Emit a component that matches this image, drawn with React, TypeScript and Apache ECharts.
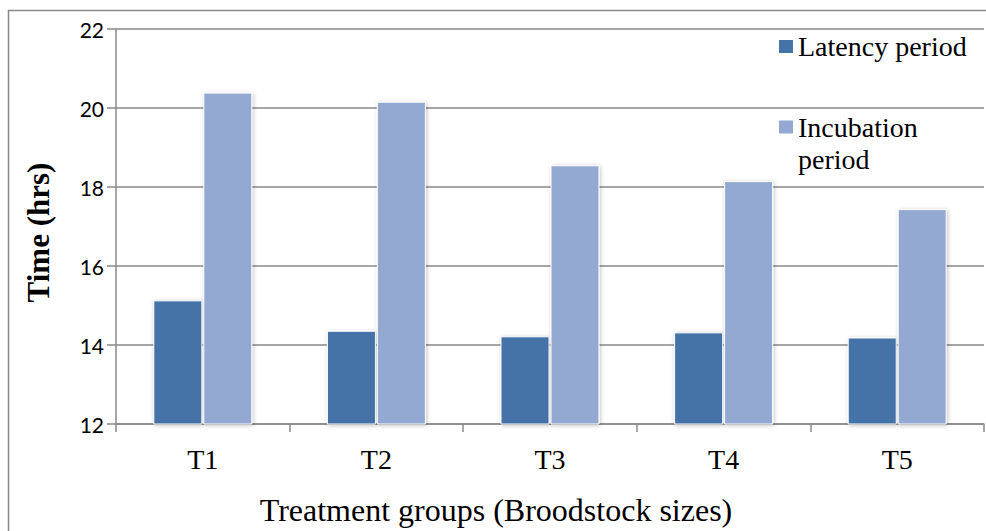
import React, { useEffect, useRef } from "react";
import * as echarts from "echarts";

const categories = ["T1", "T2", "T3", "T4", "T5"];
const latencyPeriod = [15.13, 14.36, 14.22, 14.32, 14.19];
const incubationPeriod = [20.39, 20.16, 18.55, 18.15, 17.44];
const seriesNames = ["Latency period", "Incubation period"];

const SERIF = "Liberation Serif";
const SANS = "Lato";
const GRID = "#898989";

export default function App() {
  const ref = useRef<HTMLDivElement>(null);

  useEffect(() => {
    if (!ref.current) return;
    const chart = echarts.init(ref.current, undefined, { renderer: "svg" });

    const barStyle = (color: string) => ({
      color,
      borderColor: "#ffffff",
      borderWidth: 1,
      shadowBlur: 4,
      shadowColor: "rgba(0,0,0,0.25)",
      shadowOffsetX: 1,
      shadowOffsetY: 1,
    });

    const legendBase = {
      orient: "vertical",
      left: 779,
      padding: 0,
      icon: "rect",
      itemWidth: 14,
      itemHeight: 13,
      itemStyle: { borderWidth: 0, shadowBlur: 0 },
      textStyle: { fontFamily: SERIF, fontSize: 28, color: "#000", lineHeight: 32 },
    };

    chart.setOption({
      animation: false,
      backgroundColor: "#ffffff",
      grid: { left: 116, right: 2, top: 29, bottom: 105 },
      graphic: [
        {
          type: "rect",
          shape: { x: 8.5, y: 10.5, width: 1200, height: 800 },
          style: { fill: "none", stroke: GRID, lineWidth: 1.5 },
          silent: true,
        },
      ],
      legend: [
        { ...legendBase, data: [seriesNames[0]], top: 30.5 },
        {
          ...legendBase,
          data: [seriesNames[1]],
          top: 79,
          // blank first line keeps the icon level with "Incubation"
          formatter: () => " \nIncubation\nperiod",
        },
      ],
      xAxis: {
        type: "category",
        data: categories,
        name: "Treatment groups (Broodstock sizes)",
        nameLocation: "middle",
        nameGap: 70,
        nameTextStyle: {
          fontFamily: SERIF,
          fontSize: 32,
          color: "#000",
          padding: [0, 108, 0, 0],
        },
        axisLine: { lineStyle: { color: GRID, width: 1.5 } },
        axisTick: { show: true, length: 8, lineStyle: { color: GRID, width: 1.5 } },
        axisLabel: { fontFamily: SERIF, fontSize: 28, color: "#000", margin: 21 },
      },
      yAxis: {
        type: "value",
        min: 12,
        max: 22,
        interval: 2,
        name: "Time (hrs)",
        nameLocation: "middle",
        nameGap: 62,
        nameTextStyle: {
          fontFamily: SERIF,
          fontSize: 31,
          fontWeight: "bold",
          color: "#000",
          padding: [0, 12, 0, 0],
        },
        axisLine: { show: true, lineStyle: { color: GRID, width: 1.5 } },
        axisTick: { show: true, length: 9, lineStyle: { color: GRID, width: 1.5 } },
        axisLabel: { fontFamily: SANS, fontSize: 21, color: "#000", margin: 12 },
        splitLine: { show: true, lineStyle: { color: GRID, width: 1.5 } },
      },
      series: [
        {
          name: seriesNames[0],
          type: "bar",
          data: latencyPeriod,
          barWidth: 49,
          barGap: "2%",
          itemStyle: barStyle("#4572A7"),
        },
        {
          name: seriesNames[1],
          type: "bar",
          data: incubationPeriod,
          barWidth: 49,
          itemStyle: barStyle("#94A9D1"),
        },
      ],
    });

    return () => chart.dispose();
  }, []);

  return (
    <div
      ref={ref}
      style={{ position: "fixed", left: 0, top: 0, width: 986, height: 531 }}
    />
  );
}
